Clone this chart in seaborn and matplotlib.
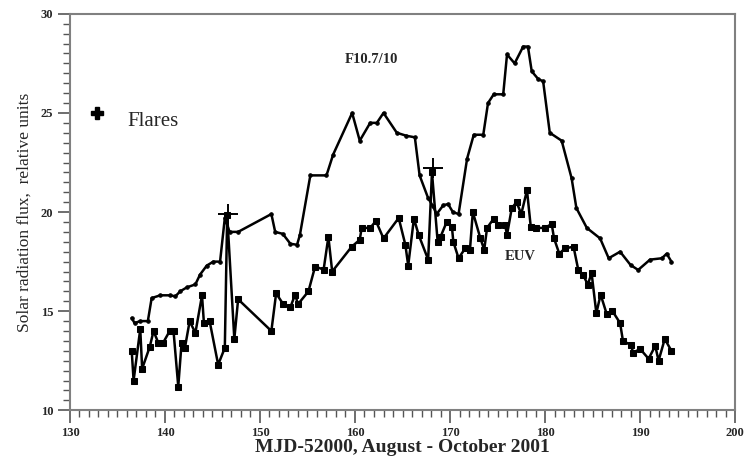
import seaborn as sns
import matplotlib.pyplot as plt
from matplotlib.ticker import MultipleLocator
import pandas as pd

# F10.7/10 radio flux (upper curve)
f107_day = [136.5, 136.8, 137.4, 138.2, 138.6, 139.5, 140.5, 141.1, 141.6, 142.3,
            143.2, 143.7, 144.4, 145.1, 145.8, 146.3, 146.8, 147.7, 151.2, 151.6,
            152.4, 153.2, 153.9, 154.2, 155.3, 157.0, 157.7, 159.7, 160.5, 161.6,
            162.3, 163.0, 164.4, 165.4, 166.3, 166.8, 167.7, 168.2, 168.6, 169.3,
            169.8, 170.3, 170.9, 171.8, 172.5, 173.5, 174.0, 174.6, 175.6, 176.0,
            176.8, 177.7, 178.2, 178.6, 179.3, 179.8, 180.5, 181.75, 182.8, 183.3,
            184.4, 185.8, 186.7, 187.9, 189.0, 189.8, 191.05, 192.3, 192.8, 193.3]
f107_val = [14.66, 14.4, 14.5, 14.5, 15.66, 15.8, 15.8, 15.75, 16.0, 16.2,
            16.35, 16.85, 17.3, 17.5, 17.5, 19.7, 19.0, 19.0, 19.9, 19.0,
            18.9, 18.4, 18.35, 18.84, 21.85, 21.85, 22.9, 25.0, 23.6, 24.5,
            24.5, 25.0, 24.0, 23.85, 23.77, 21.85, 20.7, 20.3, 19.9, 20.35,
            20.4, 20.0, 19.9, 22.7, 23.9, 23.9, 25.5, 25.94, 25.94, 27.95,
            27.5, 28.35, 28.35, 27.1, 26.7, 26.6, 24.0, 23.6, 21.7, 20.2,
            19.2, 18.67, 17.67, 18.0, 17.33, 17.08, 17.6, 17.67, 17.9, 17.5]

# EUV flux (lower curve, squares)
euv_day = [136.5, 136.7, 137.4, 137.6, 138.4, 138.8, 139.3, 139.8, 140.5, 140.9,
           141.4, 141.75, 142.1, 142.6, 143.2, 143.9, 144.1, 144.7, 145.6, 146.3,
           146.55, 147.3, 147.7, 151.2, 151.7, 152.45, 153.2, 153.7, 154.0, 155.1,
           155.8, 156.7, 157.2, 157.6, 159.65, 160.5, 160.7, 161.6, 162.2, 163.0,
           164.6, 165.3, 165.6, 166.2, 166.7, 167.7, 168.1, 168.7, 169.0, 169.65,
           170.2, 170.35, 170.9, 171.6, 172.1, 172.4, 173.2, 173.6, 173.9, 174.6,
           175.1, 175.8, 176.0, 176.5, 177.0, 177.5, 178.1, 178.5, 179.1, 180.0,
           180.7, 180.95, 181.5, 182.1, 183.0, 183.5, 184.0, 184.5, 184.9, 185.4,
           185.85, 186.5, 187.1, 187.9, 188.2, 189.0, 189.3, 190.0, 190.9, 191.6,
           191.95, 192.6, 193.3]
euv_val = [13.0, 11.5, 14.1, 12.1, 13.2, 14.0, 13.4, 13.4, 14.0, 14.0,
           11.2, 13.4, 13.15, 14.5, 13.9, 15.8, 14.4, 14.5, 12.3, 13.15,
           19.85, 13.6, 15.6, 14.0, 15.9, 15.35, 15.2, 15.84, 15.35, 16.0,
           17.25, 17.1, 18.75, 17.0, 18.25, 18.6, 19.2, 19.2, 19.55, 18.67,
           19.7, 18.35, 17.3, 19.67, 18.85, 17.6, 22.0, 18.5, 18.75, 19.5,
           19.25, 18.5, 17.67, 18.17, 18.1, 20.0, 18.67, 18.1, 19.2, 19.67,
           19.34, 19.34, 18.85, 20.2, 20.5, 19.9, 21.1, 19.25, 19.2, 19.2,
           19.4, 18.67, 17.9, 18.17, 18.25, 17.08, 16.84, 16.34, 16.92, 14.9,
           15.84, 14.84, 15.0, 14.4, 13.5, 13.3, 12.9, 13.1, 12.6, 13.25,
           12.5, 13.6, 13.0]

# flare events
flare_day = [146.6, 168.2]
flare_val = [19.9, 22.2]

f107 = pd.DataFrame({"day": f107_day, "flux": f107_val})
euv = pd.DataFrame({"day": euv_day, "flux": euv_val})

sns.set_style("ticks")
plt.rcParams["font.family"] = ["Liberation Serif", "DejaVu Serif"]

fig = plt.figure(figsize=(7.44, 4.61), dpi=100)
ax = fig.add_axes([0.094, 0.11, 0.894, 0.86])

sns.lineplot(data=f107, x="day", y="flux", sort=False, ax=ax, color="black",
             lw=1.8, marker="o", markersize=2.5, markeredgecolor="black")
sns.lineplot(data=euv, x="day", y="flux", sort=False, ax=ax, color="black",
             lw=1.8, marker="s", markersize=5, markeredgecolor="black")
ax.plot(flare_day, flare_val, ls="none", marker="+", markersize=15,
        markeredgewidth=1.4, color="black")

# legend-like annotation
ax.plot([132.8], [25.0], ls="none", marker="P", markersize=9, color="black")
ax.text(136.0, 24.55, "Flares", fontsize=15, va="center", ha="left")
ax.text(161.7, 27.7, "F10.7/10", fontsize=10.5, fontweight="bold", ha="center", va="center")
ax.text(177.4, 17.77, "EUV", fontsize=10.5, fontweight="bold", ha="center", va="center")

ax.set_xlim(130, 200)
ax.set_ylim(10, 30)
ax.xaxis.set_major_locator(MultipleLocator(10))
ax.xaxis.set_minor_locator(MultipleLocator(1))
ax.yaxis.set_major_locator(MultipleLocator(5))
ax.yaxis.set_minor_locator(MultipleLocator(0.5))
ax.tick_params(which="major", length=9, width=1.2, color="#555555",
               labelsize=9, direction="out", pad=3)
ax.tick_params(which="minor", length=5, width=1.0, color="#555555", direction="out")
for lab in ax.get_xticklabels() + ax.get_yticklabels():
    lab.set_fontweight("bold")

for sp in ax.spines.values():
    sp.set_visible(True)
    sp.set_color("#808080")
    sp.set_linewidth(1.5)

ax.set_xlabel("MJD-52000, August - October 2001", fontsize=14, fontweight="bold", labelpad=0)
ax.set_ylabel("Solar radiation flux,  relative units", fontsize=12.5, labelpad=6)

plt.savefig("out.png", dpi=100)
